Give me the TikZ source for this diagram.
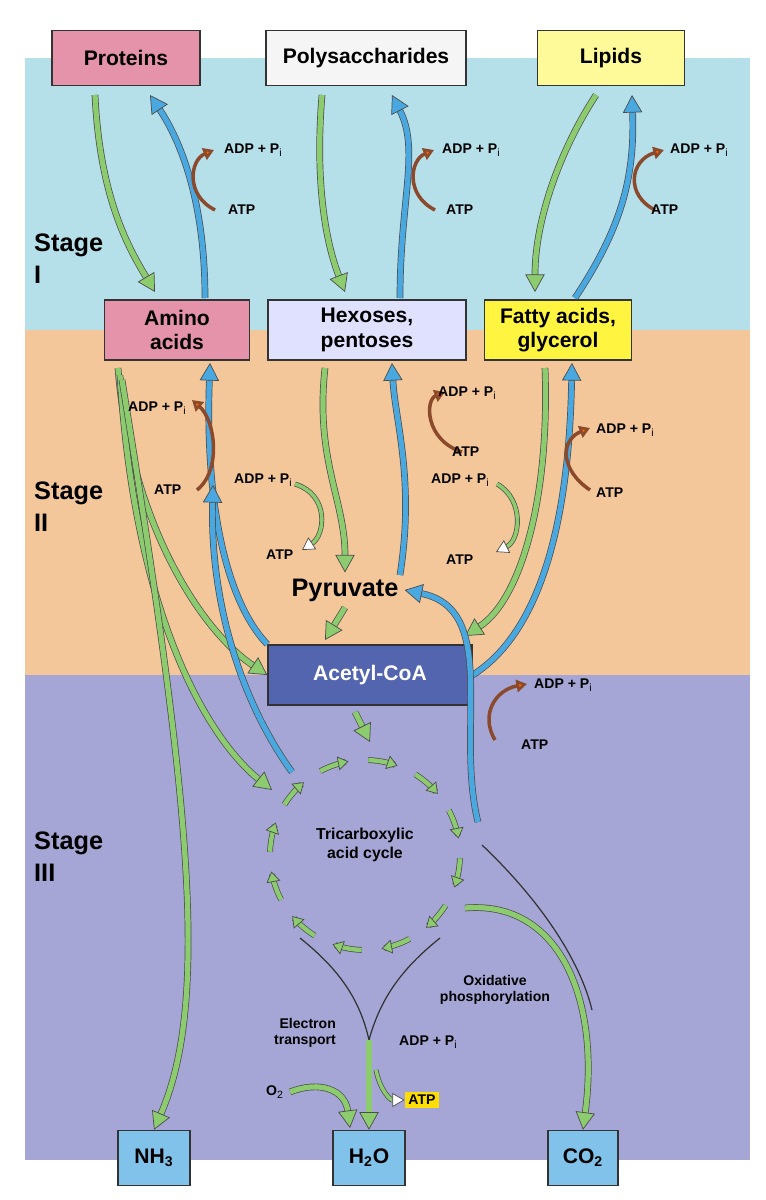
\documentclass[tikz,border=0pt]{standalone}
\usepackage{fontspec}
\setmainfont{Liberation Sans}
\usetikzlibrary{arrows.meta}
\definecolor{gr}{HTML}{8CCB6E}
\definecolor{bl}{HTML}{4AA8E0}
\definecolor{sI}{HTML}{B5DFE9}
\definecolor{sII}{HTML}{F4C79B}
\definecolor{sIII}{HTML}{A6A6D6}
\definecolor{pk}{HTML}{E592AB}
\definecolor{br}{HTML}{8B4A2B}
\begin{document}
\begin{tikzpicture}[x=0.02cm,y=-0.02cm,font=\bfseries\sffamily,
 box/.style={draw=black!80,line width=0.8pt,minimum height=1.1cm,align=center,font=\bfseries\large},
 g/.style={draw=black!70,line width=0.4pt,double=gr,double distance=3pt,-{Triangle[length=10pt,width=11pt,fill=gr]}},
 b/.style={draw=black!70,line width=0.4pt,double=bl,double distance=3pt,-{Triangle[length=10pt,width=11pt,fill=bl]}},
 atp/.style={draw=br,line width=2pt,-{Triangle[length=6pt,width=7pt,fill=orange!80!red]}},
 oatp/.style={draw=black!70,line width=0.4pt,double=gr,double distance=2pt,-{Triangle[open,length=7pt,width=8pt,fill=white]}},
 tl/.style={font=\bfseries\footnotesize},
 st/.style={font=\bfseries\Large,align=left,anchor=north west},
 thin/.style={draw=black!80,line width=0.7pt}]
\useasboundingbox (0,0) rectangle (765,1200);
\fill[white] (0,0) rectangle (765,1200);
\fill[sI] (25,58) rectangle (750,330);
\fill[sII] (25,330) rectangle (750,675);
\fill[sIII] (25,675) rectangle (750,1160);
\node[st] (s1) at (28,228) {Stage\\I};
\node[st] (s2) at (28,476) {Stage\\II};
\node[st] (s3) at (28,826) {Stage\\III};
% boxes
\node[box,fill=pk,minimum width=2.96cm] (prot) at (126,58) {Proteins};
\node[box,fill=black!4,minimum width=4cm] (poly) at (366,58) {Polysaccharides};
\node[box,fill=yellow!40,minimum width=2.94cm] (lip) at (611,58) {Lipids};
\node[box,fill=pk,minimum width=2.9cm,minimum height=1.2cm] (amino) at (177,330) {Amino\\acids};
\node[box,fill=blue!12,minimum width=3.96cm,minimum height=1.2cm] (hex) at (367,330) {Hexoses,\\pentoses};
\node[box,fill=yellow!75,minimum width=2.94cm,minimum height=1.2cm] (fat) at (558,330) {Fatty acids,\\glycerol};
\node[box,fill={rgb,255:red,84;green,101;blue,176},text=white,minimum width=4.08cm,minimum height=1.2cm] (acoa) at (370,675) {Acetyl-CoA};
\node[font=\bfseries\Large] (pyr) at (345,590) {Pyruvate};
\node[box,fill=bl!70,minimum width=1.44cm,minimum height=1.1cm] (nh3) at (154,1158) {NH$_\mathbf{3}$};
\node[box,fill=bl!70,minimum width=1.44cm,minimum height=1.1cm] (h2o) at (369,1158) {H$_\mathbf{2}$O};
\node[box,fill=bl!70,minimum width=1.4cm,minimum height=1.1cm] (co2) at (583,1158) {CO$_\mathbf{2}$};
% TCA
\node[align=center,font=\bfseries\small] (tca) at (365,845) {Tricarboxylic\\acid cycle};
\foreach \a in {0,30,...,330}
 \draw[draw=black!70,line width=0.4pt,double=gr,double distance=2.5pt,-{Triangle[length=6pt,width=8pt,fill=gr]}]
  plot[domain=\a+2:\a+20,smooth,samples=8] ({365+95*cos(\x)},{855+95*sin(\x)});
% Stage I
\draw[g] (95,95) .. controls (100,200) and (130,250) .. (155,292);
\draw[b] (205,298) .. controls (205,200) and (180,140) .. (150,95);
\draw[atp] (215,210) .. controls (185,195) and (190,160) .. (214,150);
\node[tl,anchor=west] (a1) at (218,150) {ADP + P$_\mathrm{i}$};
\node[tl,anchor=west] (t1) at (222,210) {ATP};
\draw[g] (322,95) .. controls (315,180) and (325,240) .. (345,292);
\draw[b] (400,298) .. controls (400,200) and (420,150) .. (392,95);
\draw[atp] (435,210) .. controls (405,195) and (410,160) .. (434,150);
\node[tl,anchor=west] (a2) at (436,150) {ADP + P$_\mathrm{i}$};
\node[tl,anchor=west] (t2) at (440,210) {ATP};
\draw[g] (596,95) .. controls (560,150) and (535,220) .. (535,292);
\draw[b] (575,298) .. controls (620,230) and (635,180) .. (632,95);
\draw[atp] (655,210) .. controls (625,195) and (630,160) .. (664,150);
\node[tl,anchor=west] (a3) at (664,150) {ADP + P$_\mathrm{i}$};
\node[tl,anchor=west] (t3) at (645,210) {ATP};
% Stage II amino
\draw[g] (118,368) .. controls (130,520) and (200,630) .. (acoa.west);
\draw[g] (120,375) .. controls (135,620) and (210,740) .. (272,790);
\draw[g] (122,380) .. controls (190,800) and (210,1000) .. (nh3.north);
\draw[b] (acoa.north west) .. controls (225,600) and (205,500) .. (210,363);
\draw[b] (292,772) .. controls (240,700) and (210,600) .. (213,485);
\draw[atp] (197,490) .. controls (222,470) and (215,420) .. (192,400);
\node[tl,anchor=west] (a4) at (122,408) {ADP + P$_\mathrm{i}$};
\node[tl,anchor=west] (t4) at (148,490) {ATP};
% hexoses
\draw[g] (325,368) .. controls (315,460) and (345,500) .. (pyr.north);
\draw[b] (400,575) .. controls (415,480) and (395,420) .. (392,363);
\draw[oatp] (295,484) .. controls (330,495) and (325,535) .. (302,550);
\node[tl,anchor=west] (a5) at (228,480) {ADP + P$_\mathrm{i}$};
\node[tl,anchor=west] (t5) at (260,555) {ATP};
\draw[atp] (462,452) .. controls (425,440) and (425,400) .. (445,392);
\node[tl,anchor=west] (a6) at (432,393) {ADP + P$_\mathrm{i}$};
\node[tl,anchor=west] (t6) at (446,452) {ATP};
% fatty
\draw[g] (545,368) .. controls (550,500) and (520,600) .. (465,636);
\draw[b] (acoa.east) .. controls (560,620) and (570,460) .. (572,363);
\draw[oatp] (497,484) .. controls (525,500) and (520,540) .. (496,552);
\node[tl,anchor=west] (a7) at (425,480) {ADP + P$_\mathrm{i}$};
\node[tl,anchor=west] (t7) at (440,560) {ATP};
\draw[atp] (590,490) .. controls (560,470) and (560,440) .. (590,428);
\node[tl,anchor=west] (a8) at (590,430) {ADP + P$_\mathrm{i}$};
\node[tl,anchor=west] (t8) at (590,493) {ATP};
% pyruvate/acoa
\draw[g] (pyr.south) -- (325,640);
\draw[g] (355,712) -- (370,742);
\draw[b] (478,822) .. controls (455,730) and (500,610) .. (pyr.east);
\draw[atp] (495,740) .. controls (480,715) and (495,690) .. (527,684);
\node[tl,anchor=west] (a9) at (528,685) {ADP + P$_\mathrm{i}$};
\node[tl,anchor=west] (t9) at (515,745) {ATP};
% Stage III
\draw[thin] (482,845) .. controls (540,900) and (580,960) .. (592,1010);
\draw[g] (465,908) .. controls (560,900) and (600,1000) .. (co2.north);
\draw[thin] (300,938) .. controls (340,970) and (360,1000) .. (369,1040);
\draw[thin] (440,938) .. controls (400,970) and (380,1000) .. (369,1040);
\draw[g] (369,1040) -- (h2o.north);
\node[tl,align=center] (ox) at (495,990) {Oxidative\\phosphorylation};
\node[tl,align=right] (et) at (305,1033) {Electron\\transport};
\node[tl,anchor=west] (a10) at (393,1042) {ADP + P$_\mathrm{i}$};
\node[tl] (o2) at (275,1092) {O$_\mathrm{2}$};
\draw[g] (o2.east) .. controls (320,1080) and (345,1090) .. (350,1128);
\node[tl,fill=yellow!80!orange,inner sep=2pt] (atpb) at (422,1100) {ATP};
\draw[oatp] (376,1070) .. controls (380,1090) and (390,1100) .. (atpb.west);
\end{tikzpicture}
\end{document}
